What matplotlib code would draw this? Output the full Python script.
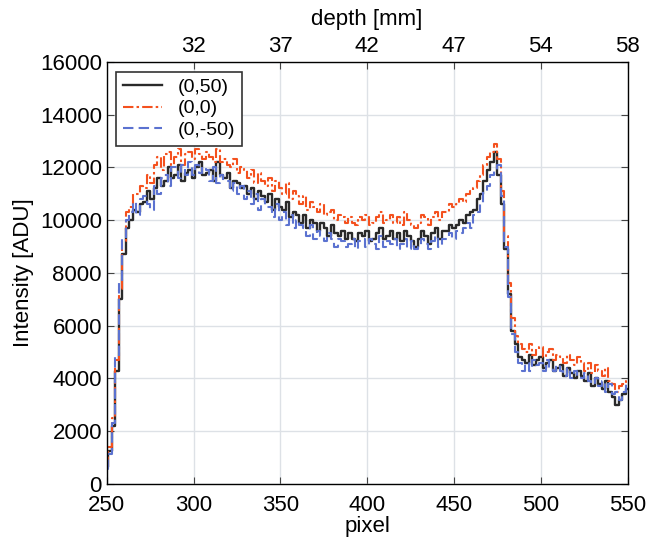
import numpy as np
import matplotlib
matplotlib.use("Agg")
import matplotlib.pyplot as plt

plt.rcParams['font.family'] = ['Liberation Sans', 'DejaVu Sans']

# detector pixel (every second pixel)
pixel = np.arange(250, 551, 2)

# (0,50)
black = [650, 1250, 2200, 4300, 7000, 8700, 9700, 10000, 10400, 10300,
         10600, 10700, 11100, 10800, 11200, 11600, 11300, 11500, 12000, 11600,
         11700, 12100, 11500, 11800, 11900, 11600, 12000, 12200, 11700, 11800,
         11900, 11500, 12200, 11700, 11600, 11800, 11200, 11500, 11400, 11200,
         11300, 11000, 11200, 10800, 11100, 10900, 10700, 11000, 10400, 10800,
         10500, 10400, 10700, 10100, 10300, 10200, 9900, 10200, 9700, 10000,
         9900, 9600, 9900, 9700, 9400, 9800, 9500, 9400, 9600, 9300,
         9500, 9300, 9200, 9500, 9400, 9600, 9200, 9300, 9500, 9700,
         9300, 9400, 9600, 9300, 9500, 9200, 9600, 9400, 9200, 9000,
         9300, 9600, 9400, 9100, 9500, 9700, 9300, 9600, 9600, 9800,
         9700, 9800, 10000, 9900, 10200, 10300, 10400, 10800, 11000, 11500,
         11900, 12200, 12600, 11700, 10600, 8900, 7200, 5800, 5300, 4800,
         4700, 4600, 4900, 4500, 4700, 4800, 4400, 4600, 4700, 4300,
         4400, 4500, 4100, 4400, 4200, 4000, 4300, 4100, 3900, 4200,
         3700, 4000, 3800, 3600, 3900, 3500, 3300, 3000, 3200, 3400,
         3600]

# (0,0)
orange = [700, 1400, 2500, 4700, 7400, 9200, 10300, 10500, 11000, 11000,
          11300, 11200, 11700, 11400, 12100, 12400, 11900, 12500, 12600, 12100,
          12400, 12700, 12100, 12500, 12600, 12300, 12700, 12500, 12300, 12600,
          12400, 12200, 12700, 12200, 12300, 12100, 12000, 12300, 11800, 12000,
          11900, 11600, 11900, 11400, 11800, 11500, 11300, 11600, 11100, 11500,
          11200, 11000, 11400, 10800, 11100, 10900, 10600, 10900, 10400, 10700,
          10500, 10300, 10600, 10200, 10300, 10400, 10000, 10200, 10100, 9900,
          10100, 9900, 9800, 10100, 10000, 10200, 9800, 9900, 10100, 10300,
          9900, 10000, 10200, 9900, 10100, 9800, 10300, 10000, 9800, 9700,
          9900, 10200, 10100, 9800, 10100, 10300, 10000, 10300, 10300, 10600,
          10500, 10600, 10800, 10700, 11000, 11100, 11200, 11500, 11700, 12100,
          12400, 12600, 12900, 12300, 11100, 9400, 7600, 6300, 5600, 5300,
          5100, 5000, 5300, 4900, 5100, 5200, 4800, 5000, 5100, 4700,
          4900, 4800, 4600, 4900, 4700, 4500, 4800, 4600, 4300, 4600,
          4200, 4500, 4300, 4100, 4400, 3900, 3800, 3500, 3700, 3800,
          3900]

# (0,-50)
blue = [550, 1150, 2300, 4800, 7600, 9300, 10000, 10300, 10700, 10200,
        10800, 10900, 10600, 10400, 11300, 11000, 11600, 11700, 11300, 12000,
        12000, 11600, 12100, 11700, 12200, 11700, 12100, 11800, 12000, 11900,
        11500, 12000, 11400, 11700, 11500, 11500, 11100, 11400, 11000, 11300,
        10800, 11100, 10600, 11000, 10400, 10800, 10500, 10500, 10100, 10600,
        10000, 10300, 9800, 10200, 9700, 10000, 9800, 9700, 9400, 9800,
        9300, 9600, 9400, 9200, 9500, 9300, 9000, 9300, 9200, 9000,
        9100, 9300, 8900, 9200, 9300, 9000, 9300, 9100, 8900, 9400,
        9000, 9200, 9100, 9300, 8900, 9100, 9300, 8900, 9200, 8900,
        9000, 9300, 9100, 8900, 9200, 9400, 9000, 9300, 9300, 9500,
        9300, 9600, 9500, 9700, 9900, 9700, 10200, 10300, 10600, 11100,
        11300, 11700, 11900, 12100, 10900, 9000, 7100, 5700, 5000, 4600,
        4300, 4600, 4300, 4700, 4500, 4600, 4300, 4700, 4400, 4300,
        4500, 4300, 4100, 4400, 4000, 4300, 4100, 4000, 4200, 3900,
        3800, 4000, 3700, 3900, 3500, 3800, 3400, 3500, 3200, 3500,
        3800]

pixel_ticks = [250, 300, 350, 400, 450, 500, 550]
depth_ticks = [300, 350, 400, 450, 500, 550]
depth_labels = ['32', '37', '42', '47', '54', '58']

fig = plt.figure(figsize=(6.49, 5.42), dpi=100)
ax = fig.add_axes([0.1645, 0.107, 0.8025, 0.779])

ax.plot(pixel, black, drawstyle='steps-mid', color='#2a2a2a', lw=1.7, label='(0,50)')
ax.plot(pixel, orange, drawstyle='steps-mid', color='#f4511e', lw=1.5,
        linestyle=(0, (5, 1.5, 1.2, 1.5)), label='(0,0)')
ax.plot(pixel, blue, drawstyle='steps-mid', color='#5b72d0', lw=1.5,
        linestyle=(0, (5, 2.5)), label='(0,-50)')

ax.set_xlim(250, 550)
ax.set_ylim(0, 16000)
ax.set_xticks(pixel_ticks)
ax.set_yticks(np.arange(0, 16001, 2000))
ax.grid(True, color='#dde1e6', lw=1.0)
ax.set_axisbelow(True)
ax.tick_params(direction='in', length=5, labelsize=16, right=True, color='#444444')
ax.tick_params(axis='x', pad=8)
ax.set_xlabel('pixel', fontsize=16, labelpad=0)
ax.set_ylabel('Intensity [ADU]', fontsize=16, labelpad=4)
for s in ax.spines.values():
    s.set_color('#444444')
    s.set_linewidth(1.0)

top = ax.twiny()
top.set_xlim(ax.get_xlim())
top.set_xticks(depth_ticks)
top.set_xticklabels(depth_labels)
top.tick_params(direction='in', length=5, labelsize=16, color='#444444')
top.set_xlabel('depth [mm]', fontsize=16, labelpad=8)

leg = ax.legend(loc='upper left', fontsize=14, fancybox=False, framealpha=1,
                edgecolor='#333333', borderaxespad=0.5, handlelength=2.0,
                labelspacing=0.2, borderpad=0.35)
leg.get_frame().set_linewidth(1.2)

fig.savefig('out.png', dpi=100)
